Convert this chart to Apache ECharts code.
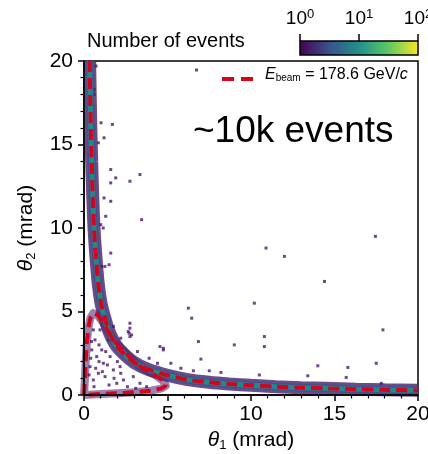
<!DOCTYPE html>
<html>
<head>
<meta charset="utf-8">
<script src="https://cdn.jsdelivr.net/npm/echarts@6/dist/echarts.min.js"></script>
<style>
  html, body { margin: 0; padding: 0; background: #fff; }
  #chart { width: 428px; height: 454px; }
</style>
</head>
<body>
<div id="chart"></div>
<script>
  // 主曲线 (E_beam = 178.6 GeV/c)，从图上读的
  var mainT1 = [0.34, 0.37, 0.41, 0.46, 0.52, 0.6, 0.72, 0.86, 1.02, 1.25, 1.5, 1.9, 2.4, 3.0, 3.8, 5.0, 6.2, 7.5, 8.7, 10.0, 11.5, 13.0, 14.5, 16.3, 18.0, 20.0];
  var mainT2 = [20, 18, 16, 14, 12, 10, 8.2, 6.6, 5.5, 4.6, 3.8, 3.0, 2.45, 1.95, 1.55, 1.18, 0.92, 0.76, 0.66, 0.58, 0.5, 0.44, 0.4, 0.35, 0.31, 0.28];
  // 内部的闭合环
  var loopT1 = [0.0, 0.06, 0.1, 0.16, 0.26, 0.38, 0.55, 0.8, 1.16, 1.75, 2.5, 3.3, 4.3, 4.8, 4.9, 4.6, 4.0, 3.0, 2.0, 1.0, 0.0];
  var loopT2 = [0.0, 1.0, 2.0, 3.0, 4.0, 4.6, 4.9, 4.8, 4.3, 3.3, 2.5, 1.75, 1.16, 0.8, 0.55, 0.38, 0.26, 0.16, 0.1, 0.06, 0.0];
  // 单个事例（计数 = 1 的格子）
  var sparseT1 = [6.74, 3.35, 2.75, 3.45, 10.9, 12.0, 17.45, 14.4, 10.2, 6.25, 6.45, 2.75, 2.75, 10.8, 17.9, 6.85, 9.0, 10.8, 4.55, 4.75,
    0.72, 0.6, 0.6, 1.02, 1.7, 1.2, 0.86, 1.6, 1.9, 1.6, 1.2, 1.6, 1.3, 1.0, 1.15, 1.6, 1.5, 1.25, 1.05,
    2.7, 7.0, 6.55, 7.5, 8.2, 10.5, 14.0, 15.8, 17.5, 15.7, 13.4, 17.8,
    0.56, 0.66, 0.46, 0.76, 0.36, 0.86, 0.56, 1.16, 1.26, 1.76, 1.06, 1.56, 2.16, 2.36, 2.95, 1.96, 3.35, 3.75, 1.46, 0.96, 1.76, 2.75, 2.65, 2.85, 4.75,
    0.3, 0.4, 0.7, 0.9, 1.4, 1.1, 0.6, 1.5, 2.6, 3.1, 2.2, 1.8, 0.45, 0.9, 1.3, 2.0, 2.2, 3.2, 3.9, 5.2, 5.8, 4.4];
  var sparseT2 = [19.46, 13.2, 12.8, 10.5, 8.8, 8.3, 9.5, 6.8, 5.5, 5.2, 4.6, 4.0, 3.5, 3.5, 3.9, 3.2, 3.0, 2.9, 2.9, 2.8,
    19.7, 18.3, 18.0, 16.3, 16.2, 15.4, 15.1, 13.5, 13.0, 12.7, 11.8, 11.6, 10.7, 10.2, 10.0, 8.5, 7.8, 7.7, 7.7,
    3.7, 2.15, 1.45, 1.45, 1.35, 1.2, 1.75, 1.65, 1.9, 1.05, 1.15, 0.7,
    3.9, 3.3, 2.7, 2.3, 1.7, 1.3, 0.9, 1.9, 1.1, 1.5, 2.7, 2.3, 1.7, 0.9, 1.1, 0.7, 0.7, 0.5, 3.3, 3.9, 4.1, 4.3, 3.8, 3.6, 2.7,
    1.2, 2.2, 1.6, 2.0, 1.8, 1.4, 0.5, 0.6, 0.5, 0.4, 1.3, 1.0, 3.2, 3.0, 2.6, 2.0, 3.4, 2.6, 2.2, 1.9, 1.6, 1.9];
  // 色标刻度
  var cbarTicks = [1, 10, 100];
  var viridis = ['#440154', '#3b528b', '#21918c', '#5ec962', '#fde725'];

  function pairs(a, b) {
    var out = [];
    for (var i = 0; i < a.length; i++) out.push([a[i], b[i]]);
    return out;
  }

  var font = 'Liberation Sans';
  var mainData = pairs(mainT1, mainT2);
  var loopData = pairs(loopT1, loopT2);
  var sparseData = pairs(sparseT1, sparseT2);

  var axisCommon = {
    min: 0, max: 20, interval: 5,
    z: 10,
    axisLine: { lineStyle: { color: '#000', width: 1.5 } },
    axisTick: { length: 6, lineStyle: { color: '#000', width: 1.5 } },
    minorTick: { show: true, splitNumber: 5, length: 3.5, lineStyle: { color: '#000', width: 1.2 } },
    splitLine: { show: false },
    axisLabel: { color: '#000', fontSize: 21, fontFamily: font },
    nameLocation: 'middle',
    nameTextStyle: {
      color: '#000', fontSize: 21, fontFamily: font,
      rich: {
        i: { fontStyle: 'italic', fontSize: 21, fontFamily: font, color: '#000' },
        sub: { fontSize: 13, fontFamily: font, color: '#000', padding: [10, 0, 0, 0] }
      }
    }
  };

  var myChart = echarts.init(document.getElementById('chart'));
  var option = {
    animation: false,
    textStyle: { fontFamily: font },
    grid: [
      { left: 84, top: 61, width: 334, height: 334, outerBoundsMode: 'none', show: true, borderColor: '#000', borderWidth: 1.5, backgroundColor: 'transparent' },
      // 色标本体
      {
        left: 300, top: 41, width: 118, height: 14, outerBoundsMode: 'none', show: true, borderColor: '#000', borderWidth: 1.5,
        backgroundColor: {
          type: 'linear', x: 0, y: 0, x2: 1, y2: 0,
          colorStops: viridis.map(function (c, i) { return { offset: i / (viridis.length - 1), color: c }; })
        }
      },
      // 色标刻度（用分隔线画在色标上方）
      { left: 300, top: 34, width: 118, height: 7, outerBoundsMode: 'none' }
    ],
    xAxis: [
      Object.assign({}, axisCommon, {
        type: 'value', gridIndex: 0, name: '{i|θ}{sub|1} (mrad)', nameGap: 33,
        axisLabel: Object.assign({}, axisCommon.axisLabel, { margin: 9 })
      }),
      { type: 'value', gridIndex: 1, show: false },
      {
        type: 'log', gridIndex: 2, position: 'top', min: cbarTicks[0], max: cbarTicks[cbarTicks.length - 1],
        axisLine: { show: false },
        axisTick: { show: false },
        splitLine: { show: true, showMinLine: true, showMaxLine: true, lineStyle: { color: '#000', width: 1.5 } },
        axisLabel: {
          margin: 4, color: '#000', fontSize: 19, fontFamily: font,
          formatter: function (v) { return '10{s|' + Math.round(Math.log10(v)) + '}'; },
          rich: { s: { fontSize: 13, fontFamily: font, color: '#000', padding: [0, 0, 9, 0] } }
        }
      }
    ],
    yAxis: [
      Object.assign({}, axisCommon, {
        type: 'value', gridIndex: 0, name: '{i|θ}{sub|2} (mrad)', nameGap: 46, nameRotate: 90,
        axisLabel: Object.assign({}, axisCommon.axisLabel, { margin: 11 })
      }),
      { type: 'value', gridIndex: 1, show: false },
      { type: 'value', gridIndex: 2, show: false }
    ],
    graphic: [
      { type: 'text', left: 87, top: 31, style: { text: 'Number of events', fontSize: 20, fontFamily: font, fill: '#000' } },
      { type: 'line', shape: { x1: 222, y1: 79, x2: 253, y2: 79 }, style: { stroke: '#d3041c', lineWidth: 4, lineDash: [12, 7] } },
      {
        type: 'text', left: 265, top: 67,
        style: {
          text: '{i|E}{sub|beam} = 178.6 GeV/{i|c}', fontSize: 16, fontFamily: font, fill: '#000',
          rich: {
            i: { fontStyle: 'italic', fontSize: 16, fontFamily: font },
            sub: { fontSize: 10, fontFamily: font, padding: [6, 0, 0, 0] }
          }
        }
      },
      { type: 'text', left: 193, top: 113, style: { text: '~10k events', fontSize: 37, fontFamily: font, fill: '#000' } }
    ],
    series: [
      {
        name: 'loopHalo', type: 'line', data: loopData, showSymbol: false, silent: true,
        lineStyle: { color: '#461c6b', width: 8, opacity: 0.55, join: 'round' }
      },
      {
        name: 'mainHalo', type: 'line', data: mainData, showSymbol: false, smooth: 0.3, silent: true,
        lineStyle: { color: '#431f6b', width: 13, opacity: 0.8 }
      },
      {
        name: 'mainMid', type: 'line', data: mainData, showSymbol: false, smooth: 0.3, silent: true,
        lineStyle: { color: '#3b528b', width: 8, opacity: 0.8 }
      },
      {
        name: 'single', type: 'scatter', data: sparseData, symbol: 'rect', symbolSize: 3, silent: true,
        itemStyle: { color: '#4a1a6e' }
      },
      {
        name: 'mainCore', type: 'line', data: mainData, showSymbol: false, smooth: 0.3, silent: true,
        lineStyle: { color: '#26868d', width: 5 }
      },
      {
        name: 'loopCurve', type: 'line', data: loopData, showSymbol: false, silent: true,
        lineStyle: { color: '#d3041c', width: 4, type: [11, 6] }
      },
      {
        name: 'mainCurve', type: 'line', data: mainData, showSymbol: false, smooth: 0.3, silent: true,
        lineStyle: { color: '#d3041c', width: 4, type: [11, 6] }
      }
    ]
  };
  myChart.setOption(option, true);
</script>
</body>
</html>
